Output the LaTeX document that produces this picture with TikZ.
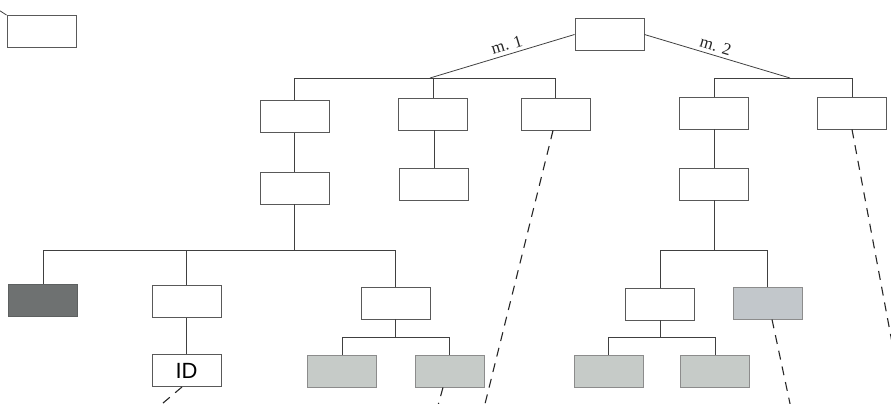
\documentclass[tikz,border=0pt]{standalone}
\usepackage{fontspec}
\setmainfont{Liberation Serif}
\newfontfamily\labelsans{Liberation Sans}
\begin{document}
\begin{tikzpicture}[x=1pt,y=-1pt,
  box/.style={draw=black!65, line width=0.9pt, rectangle, minimum width=69pt, minimum height=32pt, inner sep=0pt},
  darkbox/.style={box, fill=darkfill, draw=darkfill!85!black},
  greybox/.style={box, fill=lightfill, draw=black!45},
  bluebox/.style={box, fill=bluefill, draw=black!45},
  edge/.style={draw=black!75, line width=0.8pt},
  link/.style={draw=black!85, line width=1.1pt, dash pattern=on 9pt off 7pt},
  branchlabel/.style={font=\fontsize{17}{19}\selectfont, text=black!85, inner sep=1.5pt}]
\definecolor{darkfill}{HTML}{6E7171}
\definecolor{lightfill}{HTML}{C6CBC8}
\definecolor{bluefill}{HTML}{C2C7CB}
\clip (0,0) rectangle (891,404);

% legend
\node[box] (legend) at (41.5,31.5) {};
\coordinate (legendlead) at (-6,7);
\draw[edge] (legendlead) -- (legend.north west);

% root and first branches
\node[box] (root) at (609.5,34.5) {};
\node[box] (a) at (294.5,116.5) {};
\node[box] (b) at (433,114) {};
\node[box] (c) at (555.5,114) {};
\node[box] (d) at (714,113) {};
\node[box] (e) at (852,113) {};
\coordinate (m1) at (430,78);
\coordinate (m2) at (790,78);
\draw[edge] (m1) -- node[branchlabel, sloped, above=2pt, pos=0.55] {m. 1} (root.west);
\draw[edge] (root.east) -- node[branchlabel, sloped, above=2pt, pos=0.47] {m. 2} (m2);
\draw[edge] (a.north) |- (c.north |- m1) -- (c.north);
\draw[edge] (b.north) -- (b.north |- m1);
\draw[edge] (d.north) |- (e.north |- m2) -- (e.north);

% second level
\node[box] (a2) at (294.5,188) {};
\node[box] (b2) at (434,184.5) {};
\node[box] (d2) at (714,184) {};
\draw[edge] (a.south) -- (a.south |- a2.north);
\draw[edge] (b2.north |- b.south) -- (b2.north);
\draw[edge] (d.south) -- (d2.north);

% left subtree
\coordinate (busl) at (294.5,250);
\node[darkbox] (dk) at (43,300) {};
\node[box] (f) at (186.5,301.5) {};
\node[box, font=\labelsans\fontsize{22}{24}\selectfont] (id) at (186.5,370.5) {ID};
\node[box] (g) at (395.5,303) {};
\draw[edge] (a2.south) -- (busl);
\draw[edge] (dk.north) |- (g.north |- busl) -- (g.north);
\draw[edge] (f.north) -- (f.north |- busl);
\draw[edge] (f.south) -- (id.north);
\node[greybox] (g1) at (342,371) {};
\node[greybox] (g2) at (449.5,371) {};
\coordinate (busg) at (395.5,337);
\draw[edge] (g.south) -- (busg);
\draw[edge] (g1.north) |- (g2.north |- busg) -- (g2.north);

% right subtree
\coordinate (busr) at (714,250);
\node[box] (h) at (660,304) {};
\node[bluebox] (i) at (767.5,303) {};
\draw[edge] (d2.south) -- (busr);
\draw[edge] (h.north) |- (i.north |- busr) -- (i.north);
\node[greybox] (h1) at (608.5,371) {};
\node[greybox] (h2) at (715,371) {};
\coordinate (bush) at (660,337);
\draw[edge] (h.south) -- (bush);
\draw[edge] (h1.north) |- (h2.north |- bush) -- (h2.north);

% dashed continuations
\coordinate (idend) at (143,420);
\coordinate (g2end) at (434,420);
\coordinate (cend) at (478.5,430);
\coordinate (iend) at (793.5,420);
\coordinate (eend) at (906.6,420);
\draw[link] ([xshift=-4.5pt]id.south) -- (idend);
\draw[link] ([xshift=-6.5pt]g2.south) -- (g2end);
\draw[link] ([xshift=-2.5pt]c.south) -- (cend);
\draw[link] ([xshift=4.5pt]i.south) -- (iend);
\draw[link] (e.south) -- (eend);
\end{tikzpicture}
\end{document}
